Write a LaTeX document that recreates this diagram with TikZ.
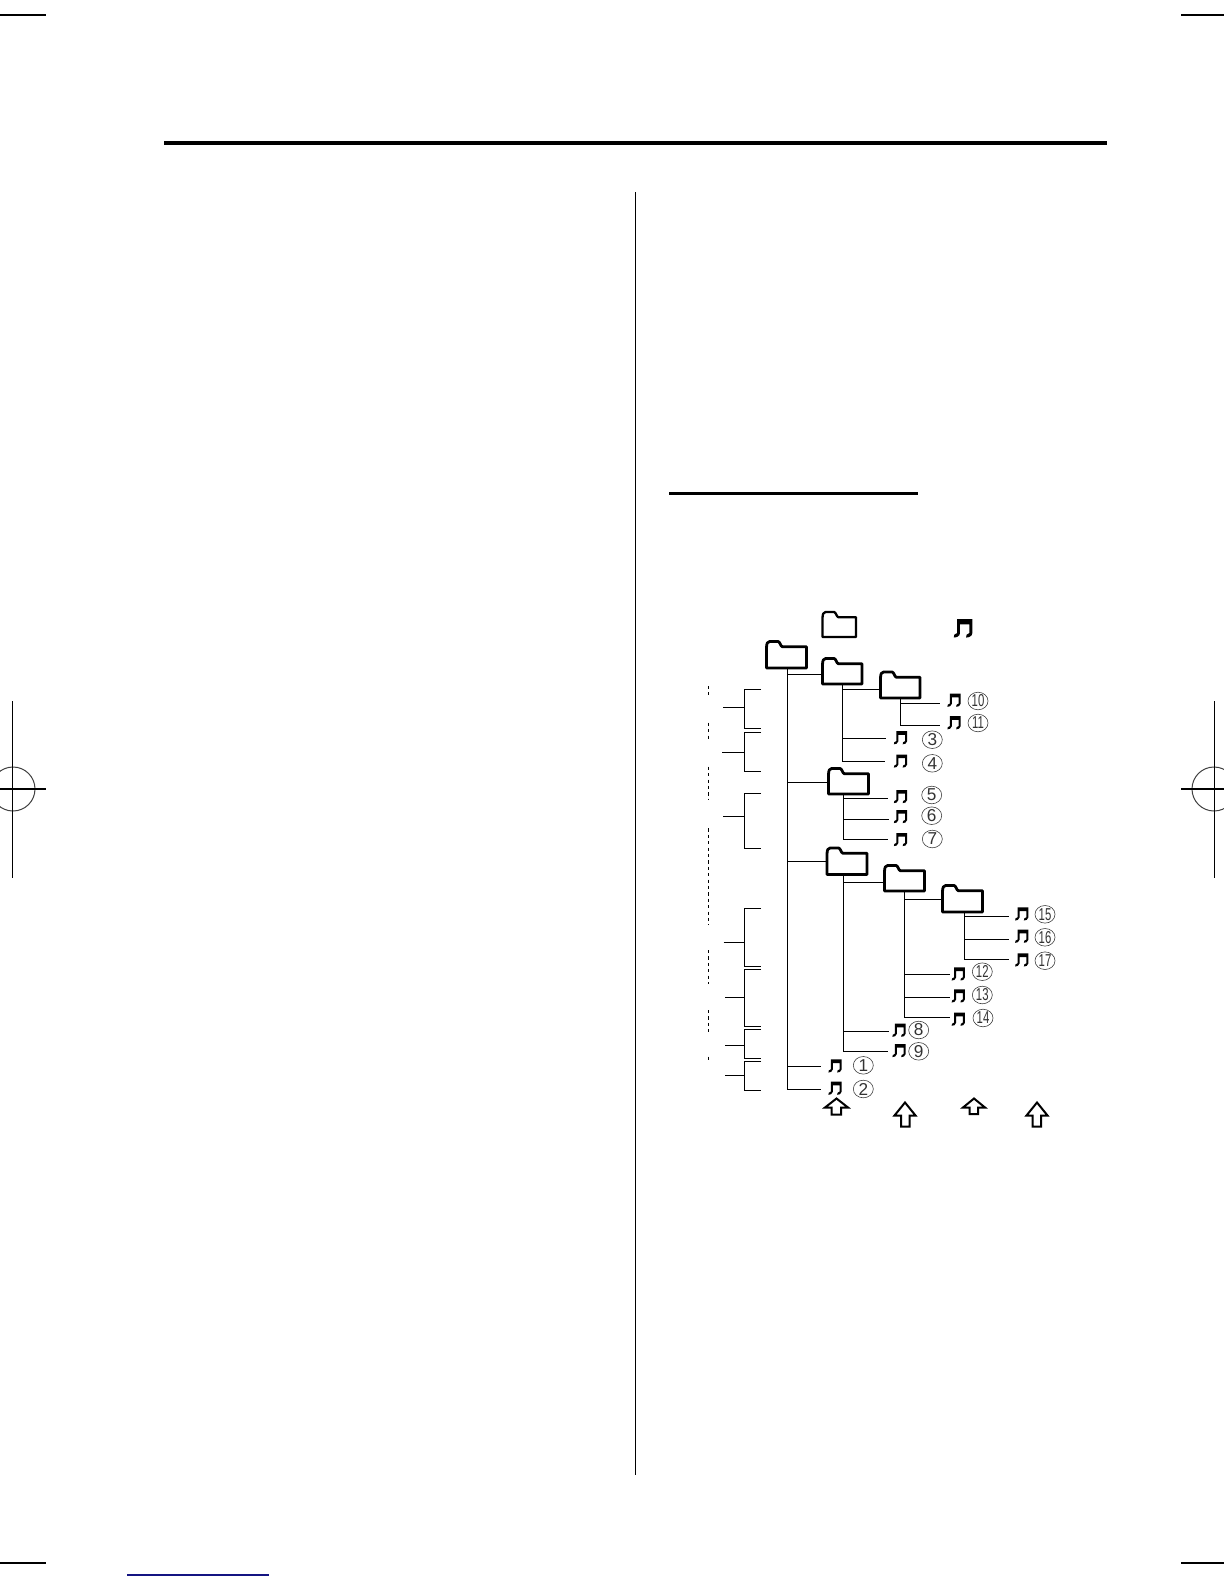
\documentclass[tikz,border=0pt]{standalone}
\usepackage{fontspec}
\setmainfont{Liberation Sans}
\usetikzlibrary{shapes.geometric}
\definecolor{linkblue}{RGB}{20,20,130}
\tikzset{
  conn/.style={line width=0.5pt,black},
  pagerule/.style={line width=0.75pt,black},
  regmark/.style={line width=0.5pt,black!75},
  foldershape/.style={line width=1.4pt,black,line join=round,fill=white},
  legendfolder/.style={line width=1.15pt,black,line join=round,fill=white},
  upshape/.style={line width=1pt,black,line join=miter,fill=white},
  slot/.style={rectangle,inner sep=0pt,outer sep=0pt},
  numring/.style={ellipse,draw=black!75,line width=0.3pt,inner sep=0pt,outer sep=0pt,
    minimum width=10pt,minimum height=8.8pt,font=\fontsize{8.6}{9}\selectfont,text=black!80},
  dashmark/.style={line width=0.3pt,black,dash pattern=on 1.6pt off 1.6pt}
}
% folder: [style], name, left, top, right, bottom (pixel coordinates)
\newcommand{\folderbox}[6][foldershape]{%
  \draw[#1] (#3,#6) -- (#3,#4+6.5) .. controls (#3,#4+2) and (#3+1,#4) .. (#3+3,#4)
    -- (#3+11.5,#4) .. controls (#3+13.5,#4) and (#3+14,#4+5) .. (#3+16,#4+5.3)
    -- (#5,#4+5.3) -- (#5,#6) -- cycle;
  \path (#3,#4) coordinate (#2nw) (#5,#6) coordinate (#2se);
  \node[slot,fit corners] (#2) at ({(#3+#5)/2},{(#4+#6)/2}) {};
}
\tikzset{fit corners/.style={minimum width=20pt,minimum height=13pt}}
% note: name, centre x, centre y
\newcommand{\notebox}[3]{%
  \fill[black] (#2-4.2,#3-6.3) -- (#2+6.6,#3-6.3) -- (#2+6.6,#3+3.8)
     .. controls (#2+6.6,#3+6) and (#2+3.6,#3+7) .. (#2+2.2,#3+6.8)
     .. controls (#2+1.6,#3+5.4) and (#2+3,#3+3.8) .. (#2+4.6,#3+3.6)
     -- (#2+4.6,#3-2.6) -- (#2-2.2,#3-2.6) -- (#2-2.2,#3+3.8)
     .. controls (#2-2.2,#3+6) and (#2-5.2,#3+7) .. (#2-6.6,#3+6.8)
     .. controls (#2-7.2,#3+5.4) and (#2-5.8,#3+3.8) .. (#2-4.2,#3+3.6) -- cycle;
  \node[slot,minimum size=7pt] (#1) at (#2,#3) {};
}
% number in ring: name, x, y, text
\newcommand{\ringnum}[4]{\node[numring] (#1) at (#2,#3) {#4};}
\newcommand{\ringtwo}[4]{\node[numring] (#1) at (#2,#3) {\scalebox{0.66}[1]{#4}};}
% up arrow: name, left, right, shaft left, shaft right, top, head bottom, bottom
\newcommand{\uparrowbox}[8]{%
  \draw[upshape] ({(#2+#3)/2},#6) -- (#3,#7) -- (#5,#7) -- (#5,#8) -- (#4,#8) -- (#4,#7) -- (#2,#7) -- cycle;
  \coordinate (#1) at ({(#2+#3)/2},#6);
}
% bracket: name, stub x, stub y, top y, bottom y
\newcommand{\bracketbox}[5]{%
  \coordinate (#1s) at (#2,#3); \coordinate (#1m) at (744.5,#3);
  \coordinate (#1t) at (761,#4); \coordinate (#1b) at (761,#5);
  \draw[conn] (#1t) -- (#1t -| #1m) -- (#1b -| #1m) -- (#1b);
  \draw[conn] (#1s) -- (#1m);
}
% trunk: name, source node, x, top y, bottom y
\newcommand{\trunk}[5]{%
  \coordinate (#1) at (#3,#4); \coordinate (#1end) at (#3,#5);
  \draw[conn] (#1) -- (#1end);
}
% tap: trunk name, target name, x where the line stops beside the target, y
\newcommand{\tap}[4]{%
  \coordinate (#2in) at (#3,#4);
  \draw[conn] (#1 |- #2in) -- (#2in);
}
\begin{document}
\begin{tikzpicture}[x=0.5pt,y=-0.5pt]
\useasboundingbox (0,0) rectangle (1224,1584);
% page furniture
\draw[line width=2pt] (164,143) -- (1107,143);
\draw[line width=0.5pt] (635.5,192) -- (635.5,1475);
\draw[line width=1.5pt] (669,493.5) -- (918,493.5);
\draw[pagerule] (0,15) -- (46,15);
\draw[pagerule] (1181,15) -- (1224,15);
\draw[pagerule] (0,1563) -- (46,1563);
\draw[pagerule] (1181,1563) -- (1224,1563);
\draw[line width=0.6pt,linkblue] (127,1575) -- (269,1575);
% registration marks
\draw[regmark] (13,789) circle (22);
\draw[pagerule] (12.5,701) -- (12.5,878);
\draw[pagerule] (0,789) -- (46,789);
\draw[regmark] (1214,789) circle (22);
\draw[pagerule] (1214.5,701) -- (1214.5,878);
\draw[pagerule] (1181,789) -- (1224,789);
% legend
\folderbox[legendfolder]{leg}{822.5}{612}{856}{637}
\begin{scope}[shift={(963,628)},scale=1.4]
\notebox{legnote}{0}{0}
\end{scope}
% trunks and taps
\trunk{troot}{root}{787.5}{668}{1089.5}
\tap{troot}{fa}{822}{674.5}
\tap{troot}{fc}{828}{782.5}
\tap{troot}{fd}{827}{861.5}
\tap{troot}{n1}{821}{1066.5}
\tap{troot}{n2}{821}{1089.5}
\trunk{tfa}{fa}{842.5}{684}{761.5}
\tap{tfa}{fb}{880}{689.5}
\tap{tfa}{n3}{886}{738.5}
\tap{tfa}{n4}{885}{761.5}
\trunk{tfb}{fb}{900.5}{698}{725.5}
\tap{tfb}{n10}{940}{703.5}
\tap{tfb}{n11}{940}{725.5}
\trunk{tfc}{fc}{843.5}{794}{839.5}
\tap{tfc}{n5}{888}{798.5}
\tap{tfc}{n6}{889}{819.5}
\tap{tfc}{n7}{888}{839.5}
\trunk{tfd}{fd}{843.5}{875}{1051.5}
\tap{tfd}{fe}{884}{882.5}
\tap{tfd}{n8}{888.5}{1031.5}
\tap{tfd}{n9}{888}{1051.5}
\trunk{tfe}{fe}{904.5}{891}{1017.5}
\tap{tfe}{ff}{942}{899.5}
\tap{tfe}{n12}{950}{974.5}
\tap{tfe}{n13}{950}{997.5}
\tap{tfe}{n14}{950}{1017.5}
\trunk{tff}{ff}{964.5}{912}{959.5}
\tap{tff}{n15}{1009}{916.5}
\tap{tff}{n16}{1009}{939.5}
\tap{tff}{n17}{1009}{959.5}
% folders
\folderbox{root}{766.5}{641.5}{806.5}{668}
\folderbox{fa}{822.5}{658.5}{862}{684}
\folderbox{fb}{880.5}{672}{920}{698}
\folderbox{fc}{828.5}{768.5}{868.5}{794}
\folderbox{fd}{827}{848}{867}{874.5}
\folderbox{fe}{884.5}{865.5}{924.5}{891}
\folderbox{ff}{942.5}{885.5}{982.5}{912}
% notes
\notebox{n1}{835}{1065.7}
\notebox{n2}{835}{1088}
\notebox{n3}{900.5}{737.5}
\notebox{n4}{900.5}{760.8}
\notebox{n5}{900.5}{796.3}
\notebox{n6}{900.5}{816.3}
\notebox{n7}{900.5}{839.3}
\notebox{n8}{899}{1030}
\notebox{n9}{899}{1050.3}
\notebox{n10}{954}{700}
\notebox{n11}{954}{722.5}
\notebox{n12}{958.3}{973.7}
\notebox{n13}{958.3}{995.7}
\notebox{n14}{958.3}{1019}
\notebox{n15}{1021.7}{913.7}
\notebox{n16}{1021.7}{936}
\notebox{n17}{1021.7}{959.7}
% numbers
\ringnum{c1}{863.3}{1065.3}{1}
\ringnum{c2}{863.3}{1089}{2}
\ringnum{c3}{932.3}{739.7}{3}
\ringnum{c4}{932.3}{763.3}{4}
\ringnum{c5}{931.7}{795}{5}
\ringnum{c6}{931.7}{815.7}{6}
\ringnum{c7}{932.3}{839}{7}
\ringnum{c8}{918.7}{1030}{8}
\ringnum{c9}{918.7}{1051.3}{9}
\ringtwo{c10}{978}{701}{10}
\ringtwo{c11}{978}{723}{11}
\ringtwo{c12}{982.3}{971.7}{12}
\ringtwo{c13}{982.3}{995}{13}
\ringtwo{c14}{983}{1018}{14}
\ringtwo{c15}{1045}{914.3}{15}
\ringtwo{c16}{1045}{937.3}{16}
\ringtwo{c17}{1045}{960.7}{17}
% arrows
\uparrowbox{a1}{825}{848}{831.5}{841}{1098.5}{1107.5}{1114.5}
\uparrowbox{a2}{894.5}{915.5}{901}{909.5}{1102.5}{1115.5}{1126.5}
\uparrowbox{a3}{963}{985}{969.5}{978}{1098.5}{1107.5}{1114}
\uparrowbox{a4}{1026.5}{1047.5}{1032.5}{1041}{1102.5}{1115.5}{1126.5}
% left brackets
\bracketbox{ba}{723}{707.5}{689.5}{728.5}
\bracketbox{bb}{722}{752.5}{732.5}{771.5}
\bracketbox{bc}{723}{816.5}{793.5}{848.5}
\bracketbox{bd}{723.5}{942.5}{908.5}{966.5}
\bracketbox{be}{725}{997.5}{969.5}{1026.5}
\bracketbox{bf}{725}{1045.5}{1029.5}{1058.5}
\bracketbox{bg}{725}{1075.5}{1061.5}{1090.5}
% dashed column
\foreach \ya/\yb in {686/695,722.7/741.7,766.7/800,828.3/925,950/984,1010/1032.7,1056.7/1063}
  \draw[dashmark] (708.5,\ya) -- (708.5,\yb);
\end{tikzpicture}
\end{document}
